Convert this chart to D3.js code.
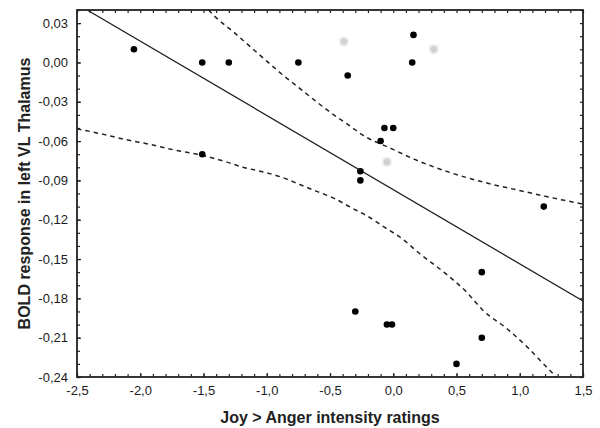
<!DOCTYPE html>
<html>
<head>
<meta charset="utf-8">
<script src="https://cdn.jsdelivr.net/npm/d3@7"></script>
<style>
	body { margin: 0; background: #fff; }
	svg { display: block; font-family: "Liberation Sans", Arial, sans-serif; }
	.axis path { display: none; }
	.axis line { stroke: #222; stroke-width: 1.2; }
	.axis text { fill: #1a1a1a; font-size: 13px; }
</style>
</head>
<body>
<div class="chart"></div>
<script>
var xTicks = [-2.5, -2.0, -1.5, -1.0, -0.5, 0.0, 0.5, 1.0, 1.5];
var yTicks = [0.03, 0.00, -0.03, -0.06, -0.09, -0.12, -0.15, -0.18, -0.21, -0.24];

// observed points
var ptX = [-2.05, -1.51, -1.30, -0.75, -1.51, 0.16, 0.15, -0.36, -0.07, 0.00, -0.10, -0.26, -0.26, 1.19, 0.70, -0.30, -0.05, -0.01, 0.70, 0.50];
var ptY = [0.010, 0.000, 0.000, 0.000, -0.070, 0.021, 0.000, -0.010, -0.050, -0.050, -0.060, -0.083, -0.090, -0.110, -0.160, -0.190, -0.200, -0.200, -0.210, -0.230];

// faded points
var grayX = [-0.39, 0.32, -0.05];
var grayY = [0.016, 0.010, -0.076];

// fitted line
var fitX = [-2.42, 1.5];
var fitY = [0.040, -0.182];

// confidence band, upper
var upX = [-1.46, -1.41, -1.26, -1.13, -1.00, -0.88, -0.75, -0.62, -0.47, -0.37, -0.24, -0.01, 0.17, 0.45, 0.74, 1.06, 1.34, 1.50];
var upY = [0.040, 0.035, 0.023, 0.012, 0.001, -0.009, -0.019, -0.029, -0.040, -0.0465, -0.0555, -0.066, -0.074, -0.084, -0.092, -0.099, -0.105, -0.108];

// confidence band, lower
var loX = [-2.50, -2.29, -2.11, -1.92, -1.74, -1.53, -1.34, -1.19, -1.00, -0.87, -0.74, -0.61, -0.46, -0.34, -0.20, -0.07, 0.07, 0.21, 0.40, 0.58, 0.71, 0.90, 1.06, 1.20, 1.29];
var loY = [-0.0506, -0.0549, -0.059, -0.0626, -0.0666, -0.0704, -0.0753, -0.0799, -0.0842, -0.088, -0.0931, -0.0982, -0.104, -0.1104, -0.1175, -0.1257, -0.1345, -0.146, -0.160, -0.1753, -0.1892, -0.2032, -0.2172, -0.2312, -0.240];

function fmt(dec) {
	return function(d) { return d.toFixed(dec).replace(".", ",").replace(/^-0,0+$/, function(s){ return s.slice(1); }); };
}

function drawChart() {
	var sel = d3.select(".chart").html("");
	var width = 600, height = 428;
	var svg = sel.append("svg").attr("width", width).attr("height", height);

	var margin = {top: 10, right: 17, bottom: 51, left: 77};
	width -= margin.left + margin.right;
	height -= margin.top + margin.bottom;

	var x = d3.scaleLinear().domain([-2.5, 1.5]).range([0, width]);
	var y = d3.scaleLinear().domain([-0.24, 0.04]).range([height, 0]);

	var g = svg.append("g").attr("transform", "translate(" + margin.left + "," + margin.top + ")");

	g.append("defs").append("clipPath").attr("id", "clip")
		.append("rect").attr("width", width).attr("height", height);
	var blur = g.select("defs").append("filter").attr("id", "blur");
	blur.append("feGaussianBlur").attr("stdDeviation", 1.2);

	var minorX = d3.range(-25, 16).map(function(i){ return i / 10; });
	var minorY = d3.range(-24, 5).map(function(i){ return i / 100; });

	// minor ticks on all four sides
	g.append("g").attr("class", "axis").attr("transform", "translate(0," + height + ")")
		.call(d3.axisBottom(x).tickValues(minorX).tickSize(-3).tickFormat(""));
	g.append("g").attr("class", "axis")
		.call(d3.axisTop(x).tickValues(minorX).tickSize(-3).tickFormat(""));
	g.append("g").attr("class", "axis")
		.call(d3.axisLeft(y).tickValues(minorY).tickSize(-3).tickFormat(""));
	g.append("g").attr("class", "axis").attr("transform", "translate(" + width + ",0)")
		.call(d3.axisRight(y).tickValues(minorY).tickSize(-3).tickFormat(""));

	// major ticks with labels
	g.append("g").attr("class", "axis").attr("transform", "translate(0," + height + ")")
		.call(d3.axisBottom(x).tickValues(xTicks).tickSize(-4).tickPadding(9).tickFormat(fmt(1)));
	g.append("g").attr("class", "axis")
		.call(d3.axisLeft(y).tickValues(yTicks).tickSize(-4).tickPadding(9).tickFormat(fmt(2)));

	var plot = g.append("g").attr("clip-path", "url(#clip)");

	var line = d3.line().x(function(d){ return x(d[0]); }).y(function(d){ return y(d[1]); });
	var curve = d3.line().curve(d3.curveMonotoneX).x(function(d){ return x(d[0]); }).y(function(d){ return y(d[1]); });

	plot.append("path")
		.datum(fitX.map(function(v, i){ return [v, fitY[i]]; }))
		.attr("d", line)
		.style("fill", "none").style("stroke", "#222").style("stroke-width", 1.3);

	plot.append("path")
		.datum(upX.map(function(v, i){ return [v, upY[i]]; }))
		.attr("d", curve)
		.style("fill", "none").style("stroke", "#222").style("stroke-width", 1.5)
		.style("stroke-dasharray", "4.5,4");

	plot.append("path")
		.datum(loX.map(function(v, i){ return [v, loY[i]]; }))
		.attr("d", curve)
		.style("fill", "none").style("stroke", "#222").style("stroke-width", 1.5)
		.style("stroke-dasharray", "4.5,4");

	plot.selectAll("circle.gray")
		.data(grayX.map(function(v, i){ return [v, grayY[i]]; }))
		.enter().append("circle")
		.attr("class", "gray")
		.attr("cx", function(d){ return x(d[0]); })
		.attr("cy", function(d){ return y(d[1]); })
		.attr("r", 4)
		.attr("filter", "url(#blur)")
		.style("fill", "#cfcfcf");

	plot.selectAll("circle.pt")
		.data(ptX.map(function(v, i){ return [v, ptY[i]]; }))
		.enter().append("circle")
		.attr("class", "pt")
		.attr("cx", function(d){ return x(d[0]); })
		.attr("cy", function(d){ return y(d[1]); })
		.attr("r", 3.3)
		.style("fill", "#000");

	// frame
	g.append("rect")
		.attr("width", width).attr("height", height)
		.style("fill", "none").style("stroke", "#222").style("stroke-width", 1.8);

	svg.append("text")
		.attr("x", margin.left + width / 2).attr("y", 423)
		.attr("text-anchor", "middle")
		.style("font-size", "16px").style("font-weight", "bold").style("fill", "#222")
		.text("Joy > Anger intensity ratings");

	svg.append("text")
		.attr("transform", "translate(30," + (margin.top + height / 2) + ") rotate(-90)")
		.attr("text-anchor", "middle")
		.style("font-size", "16px").style("font-weight", "bold").style("fill", "#222")
		.text("BOLD response in left VL Thalamus");
}

drawChart();
</script>
</body>
</html>
